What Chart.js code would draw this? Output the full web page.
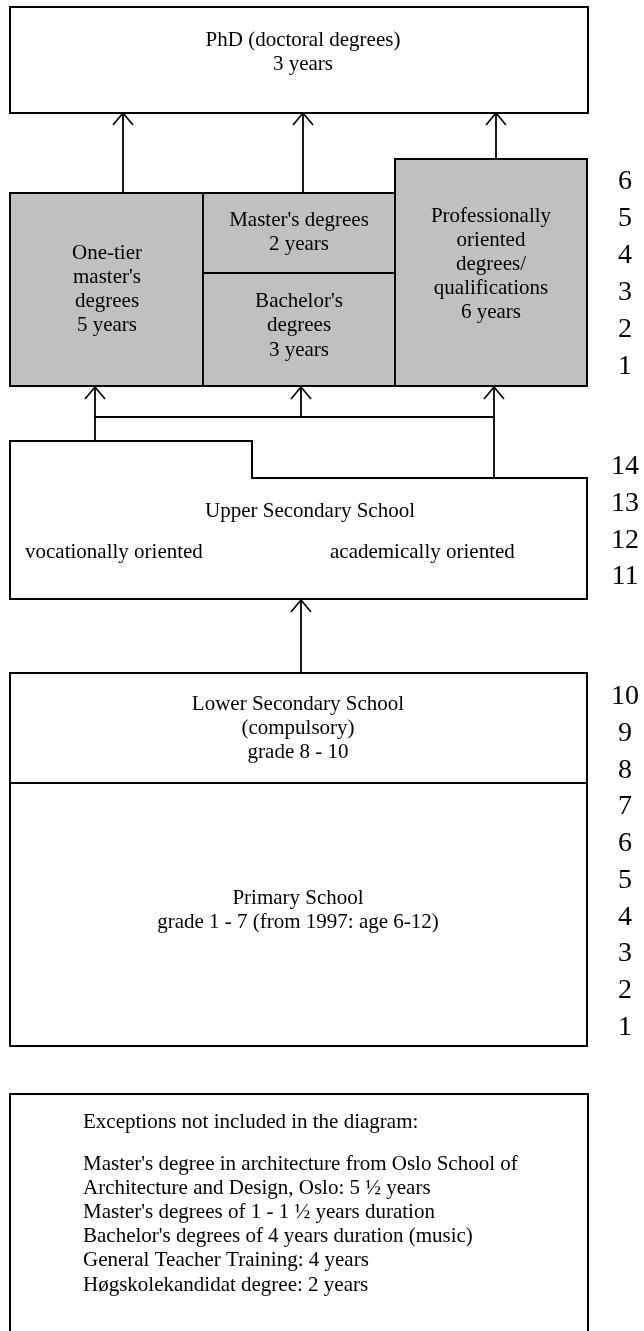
<!DOCTYPE html>
<html>
<head>
<meta charset="utf-8">
<script src="https://cdn.jsdelivr.net/npm/chart.js@4.4.1/dist/chart.umd.min.js"></script>
<style>
  html, body { margin: 0; padding: 0; background: #ffffff; }
  canvas { display: block; }
</style>
</head>
<body>
<canvas id="c" width="644" height="1331"></canvas>
<script>
// ---------------- DATA (texts, durations, tick labels) ----------------
const phdLines          = ['PhD (doctoral degrees)', '3 years'];
const oneTierLines      = ['One-tier', "master's", 'degrees', '5 years'];
const masterLines       = ["Master's degrees", '2 years'];
const bachelorLines     = ["Bachelor's", 'degrees', '3 years'];
const professionalLines = ['Professionally', 'oriented', 'degrees/', 'qualifications', '6 years'];
const upperTitle        = ['Upper Secondary School'];
const upperTracks       = ['vocationally oriented', 'academically oriented'];
const lowerLines        = ['Lower Secondary School', '(compulsory)', 'grade 8 - 10'];
const primaryLines      = ['Primary School', 'grade 1 - 7 (from 1997: age 6-12)'];
const exceptionsTitle   = ['Exceptions not included in the diagram:'];
const exceptionsLines   = [
  "Master's degree in architecture from Oslo School of",
  'Architecture and Design, Oslo: 5 \u00bd years',
  "Master's degrees of 1 - 1 \u00bd years duration",
  "Bachelor's degrees of 4 years duration (music)",
  'General Teacher Training: 4 years',
  'H\u00f8gskolekandidat degree: 2 years'
];
const higherEdYearTicks   = ['6', '5', '4', '3', '2', '1'];
const upperSecYearTicks   = ['14', '13', '12', '11'];
const compulsoryYearTicks = ['10', '9', '8', '7', '6', '5', '4', '3', '2', '1'];

// ---------------- LAYOUT (diagram units on a 644 x 1331 grid) ----------------
const G = {
  phd:   { x0: 10, x1: 588, y0: 7, y1: 113 },
  one:   { x0: 10, x1: 203, y0: 193, y1: 386 },
  mid:   { x0: 203, x1: 395, y0: 193, y1: 386, split: 273 },
  prof:  { x0: 395, x1: 587, y0: 159, y1: 386 },
  upper: { x0: 10, x1: 587, y0: 441, step: 252, y0b: 478, y1: 599 },
  lower: { x0: 10, x1: 587, y0: 673, y1: 1046, split: 783 },
  exc:   { x0: 10, x1: 588, y0: 1094, y1: 1345 },
  arrows: [
    { x: 123, y0: 193, y1: 113 },
    { x: 303, y0: 193, y1: 113 },
    { x: 496, y0: 159, y1: 113 },
    { x: 95,  y0: 441, y1: 387 },
    { x: 301, y0: 417, y1: 387 },
    { x: 494, y0: 478, y1: 387 },
    { x: 301, y0: 673, y1: 600 }
  ],
  connector: { x0: 95, x1: 494, y: 417 },
  tickX: 625,
  higherTick: { first: 181.5, step: 37 },
  upperTick:  { first: 467, step: 36.7 },
  lowerTick:  { first: 697, step: 36.7 }
};

function rectPts(b) {
  return [{x:b.x0,y:b.y0},{x:b.x1,y:b.y0},{x:b.x1,y:b.y1},{x:b.x0,y:b.y1},{x:b.x0,y:b.y0}];
}
function seg(x0, y0, x1, y1) { return [{x:x0,y:y0},{x:x1,y:y1}]; }

const datasets = [];
function addLine(pts, opts) {
  datasets.push(Object.assign({
    type: 'line', data: pts, showLine: true, pointRadius: 0, pointHoverRadius: 0,
    borderColor: '#000000', borderWidth: 2, tension: 0, fill: false,
    borderCapStyle: 'square', borderJoinStyle: 'miter', order: 0
  }, opts || {}));
}
const GRAY = '#c0c0c0';
// grey higher-education blocks (drawn first: higher order = underneath)
addLine(rectPts(G.one),  { fill: 'shape', backgroundColor: GRAY, order: 10 });
addLine(rectPts(G.mid),  { fill: 'shape', backgroundColor: GRAY, order: 10 });
addLine(rectPts(G.prof), { fill: 'shape', backgroundColor: GRAY, order: 10 });
addLine(seg(G.mid.x0, G.mid.split, G.mid.x1, G.mid.split), { borderCapStyle: 'butt' });
// PhD
addLine(rectPts(G.phd));
// upper secondary (stepped top)
const U = G.upper;
addLine([{x:U.x0,y:U.y0},{x:U.step,y:U.y0},{x:U.step,y:U.y0b},{x:U.x1,y:U.y0b},
         {x:U.x1,y:U.y1},{x:U.x0,y:U.y1},{x:U.x0,y:U.y0}]);
// lower secondary + primary
addLine(rectPts(G.lower));
addLine(seg(G.lower.x0, G.lower.split, G.lower.x1, G.lower.split), { borderCapStyle: 'butt' });
// exceptions box
addLine(rectPts(G.exc));
// connector
addLine(seg(G.connector.x0, G.connector.y, G.connector.x1, G.connector.y), { borderWidth: 1.8, borderCapStyle: 'butt' });
// arrows
G.arrows.forEach(a => {
  addLine(seg(a.x, a.y0, a.x, a.y1), { borderWidth: 1.8, borderCapStyle: 'butt' });
  addLine([{x:a.x-10,y:a.y1+12},{x:a.x,y:a.y1},{x:a.x+10,y:a.y1+12}], { borderWidth: 1.6, borderCapStyle: 'butt' });
});

// ---------------- TEXT PLUGIN (positions through chart scales) ----------------
const SERIF = '"Liberation Serif", "Times New Roman", serif';
function centered(lines, cx, firstY, step) {
  return lines.map((t, i) => ({ t, x: cx, y: firstY + i * step, align: 'center' }));
}
const textItems = [].concat(
  centered(phdLines, 303, 40, 24),
  centered(oneTierLines, 107, 253, 24),
  centered(masterLines, 299, 220, 24.5),
  centered(bachelorLines, 299, 301, 24.5),
  centered(professionalLines, 491, 216, 24.2),
  centered(upperTitle, 310, 511, 24),
  [{ t: upperTracks[0], x: 25, y: 552, align: 'left' },
   { t: upperTracks[1], x: 330, y: 552, align: 'left' }],
  centered(lowerLines, 298, 704, 24),
  centered(primaryLines, 298, 898, 24.5),
  [{ t: exceptionsTitle[0], x: 83, y: 1122, align: 'left' }],
  exceptionsLines.map((t, i) => ({ t, x: 83, y: 1164 + i * 24.2, align: 'left' }))
);
const tickItems = [].concat(
  higherEdYearTicks.map((t, i) => ({ t, y: G.higherTick.first + i * G.higherTick.step })),
  upperSecYearTicks.map((t, i) => ({ t, y: G.upperTick.first + i * G.upperTick.step })),
  compulsoryYearTicks.map((t, i) => ({ t, y: G.lowerTick.first + i * G.lowerTick.step }))
);

const textPlugin = {
  id: 'diagramText',
  afterDatasetsDraw(chart) {
    const ctx = chart.ctx, xs = chart.scales.x, ys = chart.scales.y;
    ctx.save();
    ctx.fillStyle = '#000000';
    ctx.textBaseline = 'middle';
    ctx.font = '21px ' + SERIF;
    textItems.forEach(it => {
      ctx.textAlign = it.align;
      ctx.fillText(it.t, xs.getPixelForValue(it.x), ys.getPixelForValue(it.y));
    });
    ctx.font = '28px ' + SERIF;
    ctx.textAlign = 'center';
    tickItems.forEach(it => {
      ctx.fillText(it.t, xs.getPixelForValue(G.tickX), ys.getPixelForValue(it.y));
    });
    ctx.restore();
  }
};

new Chart(document.getElementById('c'), {
  type: 'scatter',
  data: { datasets },
  options: {
    responsive: false,
    animation: false,
    devicePixelRatio: 1,
    layout: { padding: 0 },
    events: [],
    scales: {
      x: { type: 'linear', min: 0, max: 644, display: false },
      y: { type: 'linear', min: 0, max: 1331, reverse: true, display: false }
    },
    plugins: { legend: { display: false }, tooltip: { enabled: false } }
  },
  plugins: [textPlugin]
});
</script>
</body>
</html>
